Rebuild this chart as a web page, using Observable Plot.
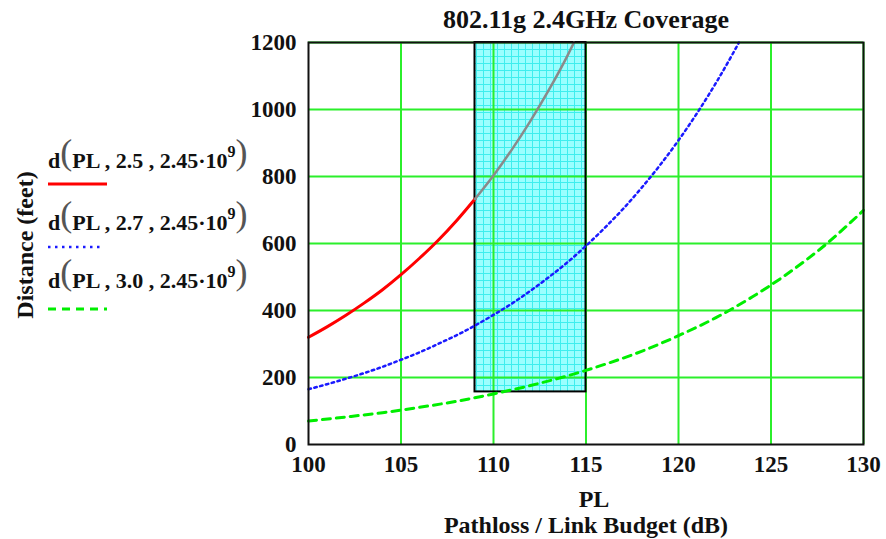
<!DOCTYPE html>
<html>
<head>
<meta charset="utf-8">
<script src="https://cdn.jsdelivr.net/npm/d3@7"></script>
<script src="https://cdn.jsdelivr.net/npm/@observablehq/plot@0.6"></script>
<style>
  html, body { margin: 0; padding: 0; background: #fff; }
  #wrap { position: relative; width: 886px; height: 539px; overflow: hidden; }
  #wrap svg { position: absolute; left: 0; top: 0; }
  #wrap text { font-family: "Liberation Serif", "DejaVu Serif", serif !important; }
</style>
</head>
<body>
<div id="wrap"></div>
<script>
// ---- data ----
const plRed = [100, 101, 102, 103, 104, 105, 106, 107, 108, 109];
const distRed = [320, 351, 385, 422, 462, 507, 556, 609, 668, 733];
const plGray = [109, 110, 111, 112, 113, 114, 114.35];
const distGray = [733, 803, 881, 966, 1059, 1161, 1200];
const plBlue = [100, 101, 102, 103, 104, 105, 106, 107, 108, 109, 110, 111, 112, 113, 114, 115, 116, 117, 118, 119, 120, 121, 122, 123, 123.27];
const distBlue = [165, 180, 196, 213, 232, 253, 275, 300, 326, 355, 387, 421, 459, 500, 544, 593, 646, 703, 766, 834, 908, 989, 1077, 1173, 1200];
const plGreen = [100, 102, 104, 106, 108, 110, 112, 114, 116, 118, 120, 122, 124, 126, 128, 130];
const distGreen = [70, 82, 95, 111, 129, 151, 176, 205, 239, 278, 325, 378, 441, 514, 599, 699];
const bandPL = [109, 115];
const bandDist = [157, 1200];
const xTicks = [100, 105, 110, 115, 120, 125, 130];
const yTicks = [0, 200, 400, 600, 800, 1000, 1200];
const seriesLabels = ["2.5", "2.7", "3.0"];
const titleText = "802.11g 2.4GHz Coverage";
const xLabel1 = "PL";
const xLabel2 = "Pathloss / Link Budget (dB)";
const yLabel = "Distance (feet)";

const zip = (xs, ys) => xs.map((x, i) => ({x, y: ys[i]}));
const FONT = "Liberation Serif, DejaVu Serif, serif";
const GRID = "#2bef2b";

const chart = Plot.plot({
  width: 886,
  height: 539,
  marginLeft: 308,
  marginRight: 23,
  marginTop: 42,
  marginBottom: 95,
  x: {domain: [100, 130], axis: null},
  y: {domain: [0, 1200], axis: null},
  style: {fontFamily: FONT, background: "transparent", overflow: "visible"},
  marks: [
    Plot.rect([{x1: bandPL[0], x2: bandPL[1], y1: bandDist[0], y2: bandDist[1]}],
      {x1: "x1", x2: "x2", y1: "y1", y2: "y2", fill: "url(#cyangrid)"}),
    Plot.ruleX(xTicks.slice(1), {stroke: GRID, strokeWidth: 2}),
    Plot.ruleY(yTicks.slice(1), {stroke: GRID, strokeWidth: 2}),
    Plot.rect([{x1: bandPL[0], x2: bandPL[1], y1: bandDist[0], y2: bandDist[1]}],
      {x1: "x1", x2: "x2", y1: "y1", y2: "y2", fill: "none", stroke: "black", strokeWidth: 2}),
    Plot.line(zip(plGreen, distGreen), {x: "x", y: "y", stroke: "#00ee00", strokeWidth: 3, strokeDasharray: "8,6", curve: "monotone-x"}),
    Plot.line(zip(plBlue, distBlue), {x: "x", y: "y", stroke: "#1a1aff", strokeWidth: 2.5, strokeDasharray: "2.5,3.5", curve: "monotone-x"}),
    Plot.line(zip(plRed, distRed), {x: "x", y: "y", stroke: "#ff0000", strokeWidth: 3, curve: "monotone-x"}),
    Plot.line(zip(plGray, distGray), {x: "x", y: "y", stroke: "#8a8a8a", strokeWidth: 2.5, curve: "monotone-x"}),
    Plot.frame({stroke: "#111", strokeWidth: 2}),
    Plot.text(xTicks, {x: d => d, frameAnchor: "bottom", dy: 20, text: d => String(d), fontSize: 23, fontWeight: "bold", fill: "#111", lineAnchor: "middle"}),
    Plot.text(yTicks, {y: d => d, frameAnchor: "left", dx: -12, text: d => String(d), fontSize: 23, fontWeight: "bold", fill: "#111", textAnchor: "end"})
  ]
});

// pattern for the highlighted band
const svgSel = d3.select(chart);
const defs = svgSel.insert("defs", ":first-child");
const pat = defs.append("pattern").attr("id", "cyangrid").attr("patternUnits", "userSpaceOnUse")
  .attr("width", 7).attr("height", 7);
pat.append("rect").attr("width", 7).attr("height", 7).attr("fill", "#9affff");
pat.append("path").attr("d", "M0,0.5H7M0.5,0V7").attr("stroke", "#3eeeee").attr("stroke-width", 1).attr("fill", "none");

document.getElementById("wrap").appendChild(chart);

// overlay: title, axis labels, legend
const ov = d3.select("#wrap").append("svg").attr("width", 886).attr("height", 539)
  .style("pointer-events", "none").attr("font-family", FONT);

ov.append("text").attr("x", 586).attr("y", 28).attr("text-anchor", "middle")
  .attr("font-size", 26).attr("font-weight", "bold").attr("fill", "#111").text(titleText);
ov.append("text").attr("x", 594).attr("y", 507).attr("text-anchor", "middle")
  .attr("font-size", 24).attr("font-weight", "bold").attr("fill", "#111").text(xLabel1);
ov.append("text").attr("x", 586).attr("y", 533).attr("text-anchor", "middle")
  .attr("font-size", 24).attr("font-weight", "bold").attr("fill", "#111").text(xLabel2);
ov.append("text").attr("transform", "translate(33,245) rotate(-90)").attr("text-anchor", "middle")
  .attr("font-size", 24).attr("font-weight", "bold").attr("fill", "#111").text(yLabel);

const legendRows = [
  {label: seriesLabels[0], base: 168, lineY: 184, x2: 107, stroke: "#ff0000", width: 3, dash: null},
  {label: seriesLabels[1], base: 230, lineY: 247, x2: 102, stroke: "#1a1aff", width: 2.5, dash: "2.5,4.5"},
  {label: seriesLabels[2], base: 288, lineY: 309, x2: 107, stroke: "#00ee00", width: 3, dash: "8,6"}
];
legendRows.forEach(r => {
  const t = ov.append("text").attr("x", 48).attr("y", r.base).attr("font-size", 22)
    .attr("font-weight", "bold").attr("fill", "#111").attr("xml:space", "preserve");
  t.append("tspan").text("d");
  t.append("tspan").attr("font-weight", "normal").attr("font-size", 36).attr("fill", "#555").attr("dy", -4).text("(");
  t.append("tspan").attr("dy", 4).text("PL , " + r.label + " , 2.45\u00B710");
  t.append("tspan").attr("font-size", 16).attr("dy", -11).text("9");
  t.append("tspan").attr("font-weight", "normal").attr("font-size", 36).attr("fill", "#555").attr("dy", 7).text(")");
  const ln = ov.append("line").attr("x1", 48).attr("x2", r.x2).attr("y1", r.lineY).attr("y2", r.lineY)
    .attr("stroke", r.stroke).attr("stroke-width", r.width);
  if (r.dash) ln.attr("stroke-dasharray", r.dash);
});
</script>
</body>
</html>
